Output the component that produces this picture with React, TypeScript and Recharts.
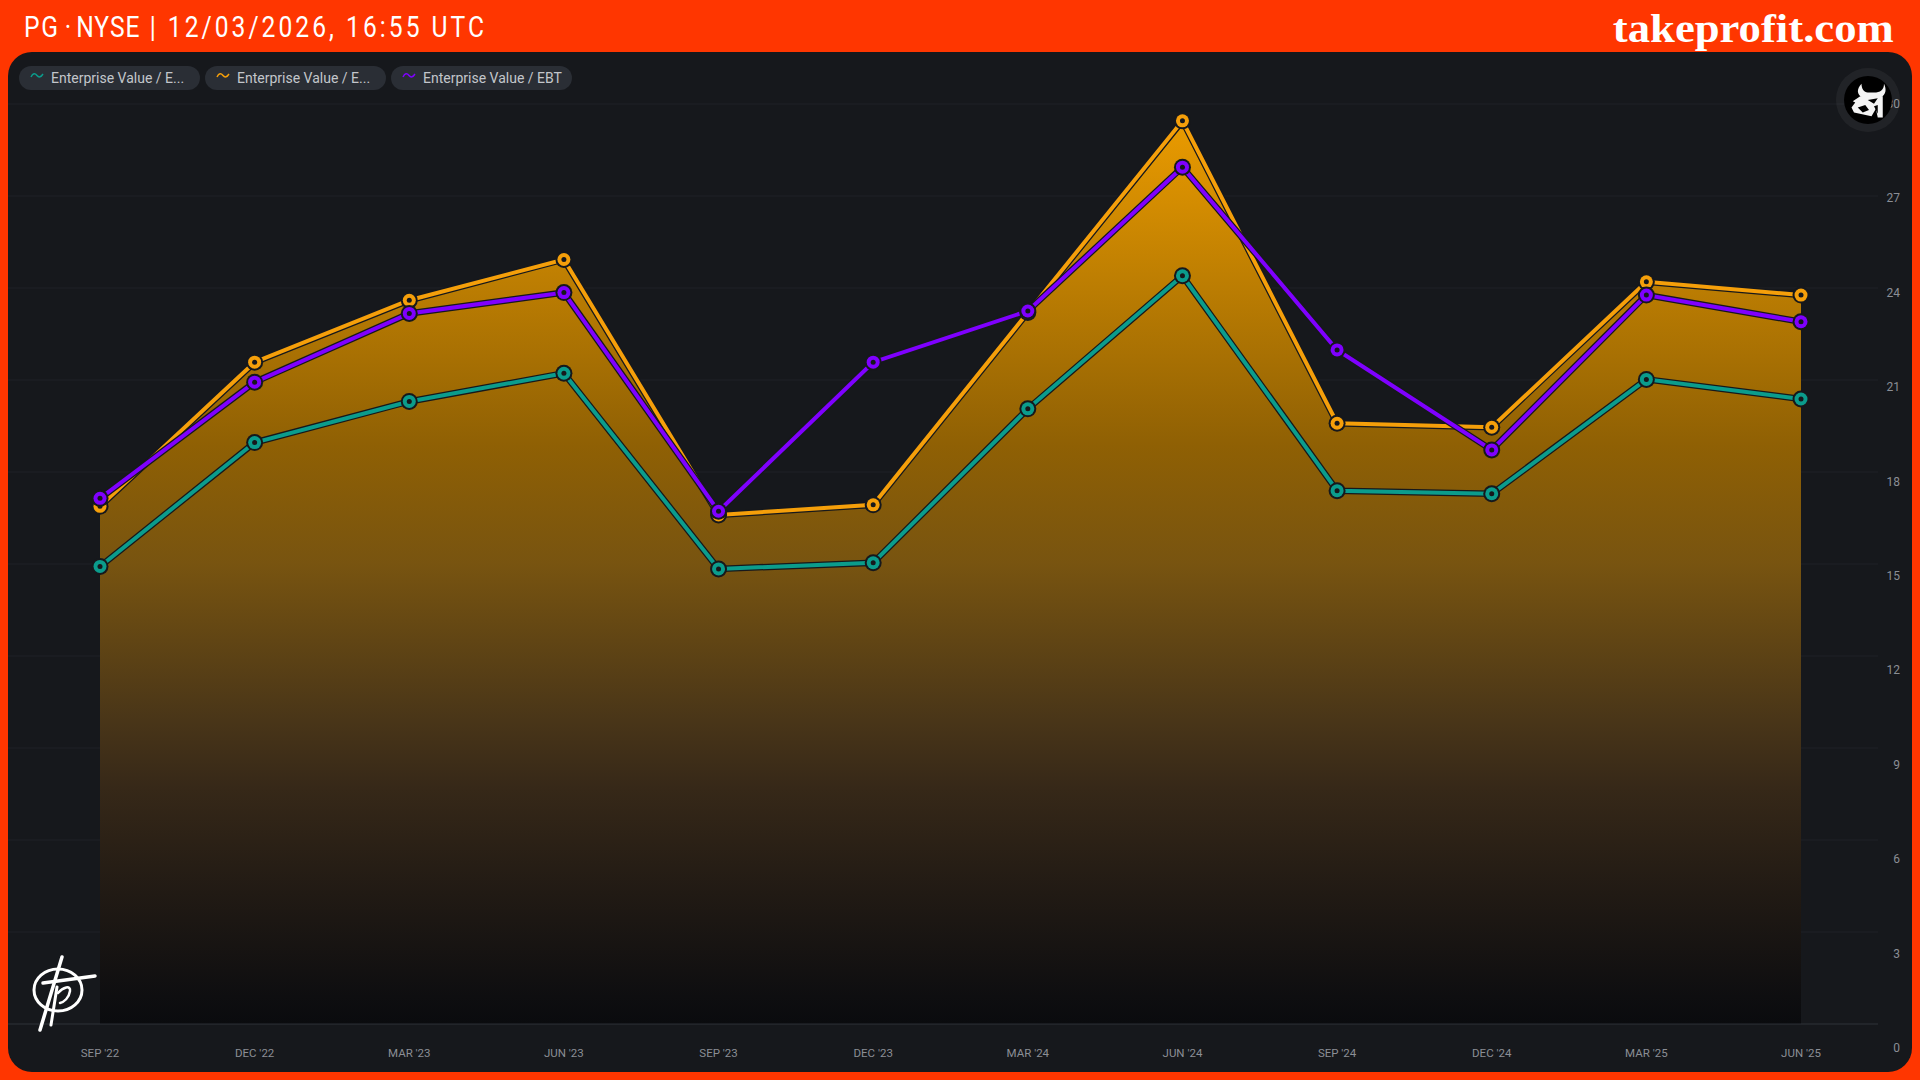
import React from 'react';
import { ComposedChart, Area, Line, XAxis, YAxis, CartesianGrid } from 'recharts';

const quarters = ["SEP '22", "DEC '22", "MAR '23", "JUN '23", "SEP '23", "DEC '23", "MAR '24", "JUN '24", "SEP '24", "DEC '24", "MAR '25", "JUN '25"];
const evEbit = [14.92, 18.96, 20.3, 21.22, 14.84, 15.04, 20.06, 24.4, 17.39, 17.29, 21.02, 20.38];
const evEbitda = [16.88, 21.58, 23.6, 24.93, 16.6, 16.93, 23.2, 29.45, 19.59, 19.46, 24.2, 23.77];
const evEbt = [17.14, 20.93, 23.17, 23.85, 16.72, 21.58, 23.25, 27.94, 21.98, 18.72, 23.77, 22.9];
const yTicks = [0, 3, 6, 9, 12, 15, 18, 21, 24, 27, 30];
const legendNames = ['Enterprise Value / E...', 'Enterprise Value / E...', 'Enterprise Value / EBT'];

const TEAL = '#0b9c8c';
const ORANGE = '#f59f0a';
const PURPLE = '#7f00ff';
const CASING = '#16181c';
const legendColors = [TEAL, ORANGE, PURPLE];

const chartData = quarters.map((q, i) => ({
    quarter: q,
    teal: evEbit[i],
    orange: evEbitda[i],
    purple: evEbt[i],
}));

const RingDot = (color: string) => (props: any) => {
    const { cx, cy, index } = props;
    return (
        <g key={index}>
            <circle cx={cx} cy={cy} r={8.5} fill={CASING} />
            <circle cx={cx} cy={cy} r={6.5} fill={color} />
            <circle cx={cx} cy={cy} r={2.5} fill={CASING} />
        </g>
    );
};

// price labels drift a little below their gridlines further down the axis
const PriceTick = (props: any) => {
    const { x, y, payload } = props;
    const drift = (30 - payload.value) * 0.8;
    return (
        <text x={x + 14} y={y + drift + 4} textAnchor="end" fontSize={12} fontFamily="Roboto, sans-serif" fill="#8b8e95">
            {payload.value}
        </text>
    );
};

const series = [
    { key: 'teal', color: TEAL },
    { key: 'orange', color: ORANGE },
    { key: 'purple', color: PURPLE },
];

export default function App() {
    return (
        <div style={{ position: 'fixed', left: 0, top: 0, width: 1920, height: 1080, background: '#ff3600', overflow: 'hidden' }}>
            <div style={{ position: 'absolute', left: 24, top: 9, fontFamily: 'Roboto, sans-serif', fontSize: 30, color: '#fff', letterSpacing: 3.7, whiteSpace: 'nowrap', transform: 'scaleX(0.82)', transformOrigin: 'left center' }}>
                <span style={{ letterSpacing: 2.2 }}>PG</span>
                <span style={{ margin: '0 6px', letterSpacing: 0 }}>·</span>
                <span style={{ letterSpacing: 1.2 }}>NYSE</span> | 12/03/2026, 16:55 UTC
            </div>
            <div style={{ position: 'absolute', right: 26, top: 4, fontFamily: '"Liberation Serif", serif', fontWeight: 700, fontSize: 41, color: '#fff', whiteSpace: 'nowrap', transform: 'scaleX(1.09)', transformOrigin: 'right center' }}>
                takeprofit.com
            </div>

            <div style={{ position: 'absolute', left: 8, top: 52, width: 1904, height: 1020, background: '#16181c', borderRadius: 24, overflow: 'hidden' }}>
                <ComposedChart width={1904} height={1020} data={chartData} margin={{ top: 52, right: 0, bottom: 0, left: 0 }}>
                    <defs>
                        <linearGradient id="orangeFill" x1="0" y1="0" x2="0" y2="1">
                            <stop offset="0%" stopColor="#ea9b00" />
                            <stop offset="36%" stopColor="#8f6004" />
                            <stop offset="49%" stopColor="#785410" />
                            <stop offset="66%" stopColor="#4a3618" />
                            <stop offset="74%" stopColor="#362818" />
                            <stop offset="85.5%" stopColor="#211a14" />
                            <stop offset="97%" stopColor="#0e0e10" />
                            <stop offset="100%" stopColor="#0a0b0e" />
                        </linearGradient>
                    </defs>
                    <CartesianGrid horizontal vertical={false} stroke="#1f2126" strokeWidth={1} />
                    <XAxis
                        dataKey="quarter"
                        scale="point"
                        padding={{ left: 92, right: 77 }}
                        height={48}
                        interval={0}
                        tickLine={false}
                        tickSize={0}
                        tickMargin={25}
                        axisLine={{ stroke: '#2b2e35' }}
                        tick={{ fontSize: 11.5, fill: '#8b8e95', fontFamily: 'Roboto, sans-serif' }}
                    />
                    <YAxis
                        orientation="right"
                        width={34}
                        domain={[0, 30]}
                        ticks={yTicks}
                        interval={0}
                        axisLine={false}
                        tickLine={false}
                        tick={PriceTick}
                    />
                    <Area dataKey="orange" type="linear" stroke="none" fill="url(#orangeFill)" fillOpacity={1} dot={false} isAnimationActive={false} />
                    {series.map(s => (
                        <React.Fragment key={s.key}>
                            <Line dataKey={s.key} type="linear" stroke={CASING} strokeWidth={6.5} dot={false} activeDot={false} isAnimationActive={false} />
                            <Line dataKey={s.key} type="linear" stroke={s.color} strokeWidth={4} dot={RingDot(s.color)} activeDot={false} isAnimationActive={false} />
                        </React.Fragment>
                    ))}
                </ComposedChart>
            </div>

            {legendNames.map((name, i) => (
                <div
                    key={i}
                    style={{
                        position: 'absolute', left: 19 + i * 186, top: 66, width: 181, height: 24, borderRadius: 12,
                        background: '#2a2e35', color: '#c3c6cb', fontFamily: 'Roboto, sans-serif', fontSize: 14, lineHeight: '24px',
                        whiteSpace: 'nowrap',
                    }}
                >
                    <svg width={14} height={8} style={{ position: 'absolute', left: 11, top: 6 }}>
                        <path d="M1 5 C3 1 5 1 7 3.5 C9 6 11 5 13 2" fill="none" stroke={legendColors[i]} strokeWidth={1.5} />
                    </svg>
                    <span style={{ position: 'absolute', left: 32 }}>{name}</span>
                </div>
            ))}

            {/* bull badge */}
            <svg width={70} height={70} style={{ position: 'absolute', left: 1833, top: 65 }}>
                <circle cx={35} cy={35} r={32} fill="#ffffff" fillOpacity={0.05} />
                <circle cx={35} cy={35} r={24} fill="#000" />
                <g transform="translate(36 35) scale(1.25) translate(-34 -34)">
                    <path d="M28 21 C24 25 24 30 29 32 L43 32 C48 30 48 25 46 21 C46 26 43 28 38 28 L33 28 C30 28 28 25 28 21 Z" fill="#f4f4f4" />
                    <path d="M27 31 L45 31 L45 48 L41 48 L39.5 41 L36 47 L22 44 L20 40 L23 36 L21 35 Z" fill="#f4f4f4" />
                    <path d="M33 34 L41 32.5 L38 37 Z M25 40 L31 38 L34 42 L29 44 Z M38 39 L41 38 L41 45 Z" fill="#000" />
                </g>
            </svg>

            {/* takeprofit mark */}
            <svg width={100} height={90} style={{ position: 'absolute', left: 25, top: 950 }}>
                <g fill="none" stroke="#fff" strokeLinecap="round">
                    <ellipse cx={33} cy={40} rx={24} ry={21} strokeWidth={3} />
                    <path d="M37 7 L15 80" strokeWidth={3.5} />
                    <path d="M32 37 L26 75" strokeWidth={3} />
                    <path d="M18 33 L70 26" strokeWidth={3.5} />
                    <path d="M33 43 C38 37 46 35 45 41 C44 48 39 52 35 53" strokeWidth={2.5} />
                </g>
            </svg>
        </div>
    );
}
